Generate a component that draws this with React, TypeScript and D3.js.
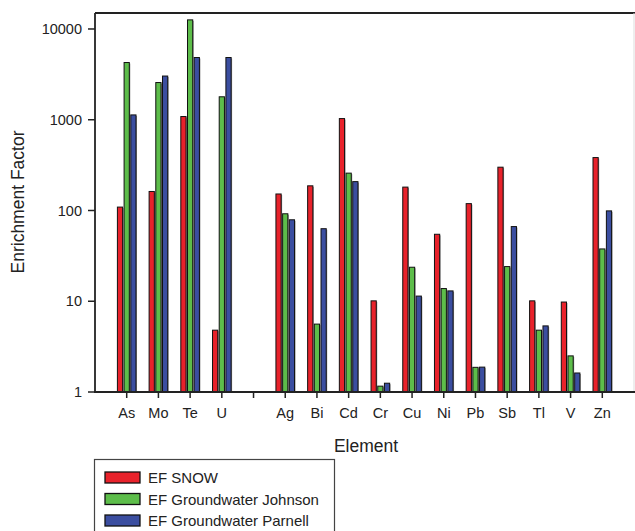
import React from "react";
import * as d3 from "d3";

const W = 635;
const H = 531;

// category slots along x (the empty one is the gap between the two groups)
const elements = ["As", "Mo", "Te", "U", "", "Ag", "Bi", "Cd", "Cr", "Cu", "Ni", "Pb", "Sb", "Tl", "V", "Zn"];
const seriesNames = ["EF SNOW", "EF Groundwater Johnson", "EF Groundwater Parnell"];
const seriesColors = ["#e8222b", "#5dbd4a", "#3b4ea0"];

const efSnow = [109, 162, 1085, 4.8, null, 152, 187, 1030, 10.1, 181, 54.7, 119, 300, 10.1, 9.8, 383];
const efJohnson = [4270, 2570, 12600, 1790, null, 92, 5.6, 258, 1.16, 23.7, 13.8, 1.87, 24.1, 4.8, 2.5, 37.7];
const efParnell = [1130, 3030, 4850, 4850, null, 79, 63, 208, 1.25, 11.4, 13.0, 1.88, 66.5, 5.35, 1.62, 99];

const yTicks = [1, 10, 100, 1000, 10000];

const FONT = "Arial, 'Liberation Sans', sans-serif";

export default function App() {
  const margin = { left: 95, top: 13, right: 634, bottom: 392 };
  const series = [efSnow, efJohnson, efParnell];

  const x = d3
    .scaleBand<string>()
    .domain(elements.map((e, i) => String(i)))
    .range([margin.left, margin.right])
    .paddingInner(0)
    .paddingOuter(0.5);

  const sub = d3
    .scaleBand<number>()
    .domain([0, 1, 2])
    .range([-9.3, 9.3])
    .paddingInner(0.22)
    .paddingOuter(0);

  const y = d3.scaleLog().domain([1, 15000]).range([margin.bottom, margin.top]);

  const center = (i: number) => (x(String(i)) ?? 0) + x.bandwidth() / 2;

  return (
    <svg
      width={W}
      height={H}
      style={{ position: "absolute", left: 0, top: 0, background: "#fff" }}
      fontFamily={FONT}
    >
      {/* bars */}
      {series.map((vals, s) =>
        vals.map((v, i) => {
          if (v == null) return null;
          const bx = center(i) + (sub(s) ?? 0);
          const top = y(v);
          const h = margin.bottom - top;
          return (
            <g key={`${s}-${i}`}>
              <rect x={bx + 1} y={top + 1} width={sub.bandwidth()} height={h - 1} fill="#9a9a9a" />
              <rect
                x={bx}
                y={top}
                width={sub.bandwidth()}
                height={h}
                fill={seriesColors[s]}
                stroke="#111"
                strokeWidth={1}
              />
            </g>
          );
        })
      )}

      {/* frame */}
      <line x1={margin.left} x2={W} y1={margin.top} y2={margin.top} stroke="#222" strokeWidth={1.8} />
      <line x1={margin.left} x2={margin.left} y1={margin.top} y2={margin.bottom} stroke="#222" strokeWidth={1.8} />
      <line x1={margin.right} x2={margin.right} y1={margin.top} y2={margin.bottom} stroke="#ddd" strokeWidth={1} />
      <line x1={margin.left - 1} x2={W} y1={margin.bottom} y2={margin.bottom} stroke="#222" strokeWidth={1.8} />

      {/* y axis */}
      {yTicks.map((t) => (
        <g key={t}>
          <line x1={margin.left - 7} x2={margin.left} y1={y(t)} y2={y(t)} stroke="#222" strokeWidth={1.5} />
          <text x={margin.left - 13} y={y(t)} dy="0.35em" textAnchor="end" fontSize={14.5} fill="#222">
            {t}
          </text>
        </g>
      ))}

      {/* x axis */}
      {elements.map((e, i) => (
        <g key={i}>
          <line x1={center(i)} x2={center(i)} y1={margin.bottom} y2={margin.bottom + 6} stroke="#222" strokeWidth={1.5} />
          <text x={center(i)} y={418} textAnchor="middle" fontSize={14.5} fill="#222">
            {e}
          </text>
        </g>
      ))}

      {/* axis titles */}
      <text x={366} y={452} textAnchor="middle" fontSize={17.5} fill="#222">
        Element
      </text>
      <text
        transform="translate(24,202) rotate(-90)"
        textAnchor="middle"
        fontSize={17.5}
        fill="#222"
      >
        Enrichment Factor
      </text>

      {/* legend */}
      <rect x={94.5} y={459.5} width={240} height={90} fill="#fff" stroke="#444" strokeWidth={1.2} />
      {seriesNames.map((name, s) => (
        <g key={name} transform={`translate(105, ${472 + s * 21.5})`}>
          <rect x={0} y={0} width={35} height={11} fill={seriesColors[s]} stroke="#111" strokeWidth={1.3} />
          <text x={43} y={11} fontSize={15} fill="#222">
            {name}
          </text>
        </g>
      ))}
    </svg>
  );
}
